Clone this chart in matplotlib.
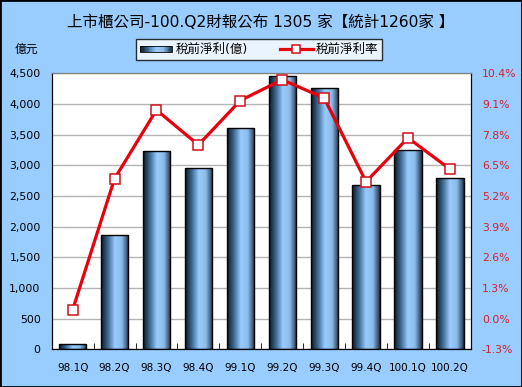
#Libraries
import numpy as np
import matplotlib
matplotlib.use('Agg')
import matplotlib.pyplot as plt
from matplotlib.colors import LinearSegmentedColormap
from matplotlib.patches import Rectangle
from matplotlib.lines import Line2D
from matplotlib.legend_handler import HandlerBase

#Fonts
plt.rcParams['font.family'] = ['DejaVu Sans', 'Noto Sans CJK TC']

#Data
quarters = ['98.1Q', '98.2Q', '98.3Q', '98.4Q', '99.1Q', '99.2Q', '99.3Q', '99.4Q', '100.1Q', '100.2Q']
profit = [91, 1859, 3228, 2951, 3603, 4456, 4255, 2674, 3249, 2788]  #稅前淨利(億)
margin = [0.38, 5.93, 8.84, 7.36, 9.24, 10.12, 9.35, 5.80, 7.66, 6.34]  #稅前淨利率 %
left_ticks = [0, 500, 1000, 1500, 2000, 2500, 3000, 3500, 4000, 4500]
right_ticks = [-1.3, 0.0, 1.3, 2.6, 3.9, 5.2, 6.5, 7.8, 9.1, 10.4]

title = '上市櫃公司-100.Q2財報公布 1305 家【統計1260家 】'
bar_label = '稅前淨利(億)'
line_label = '稅前淨利率'

#Colors
bg = '#99ccff'
red = '#e8000e'
tick_red = '#d42030'
cmap = LinearSegmentedColormap.from_list('bar', ['#0b1622', '#3e6a92', '#99ccff', '#8bbbe8', '#1c3048'], N=256)

#Figure
fig = plt.figure(figsize=(5.22, 3.87), dpi=100, facecolor=bg)
fig.patches.append(Rectangle((0, 0), 1, 1, transform=fig.transFigure, fill=False,
                             edgecolor='black', linewidth=2, zorder=10))
ax1 = fig.add_axes([0.099, 0.097, 0.803, 0.714])
ax1.set_facecolor('white')

x = np.arange(len(quarters))
bars = ax1.bar(x, profit, width=0.65, facecolor='none', edgecolor='black', linewidth=1, zorder=3)

#Gradient fill for bars
grad = np.linspace(0, 1, 256).reshape(1, -1)
for b in bars:
    x0, y0 = b.get_x(), b.get_y()
    w, h = b.get_width(), b.get_height()
    im = ax1.imshow(grad, extent=[x0, x0 + w, y0, y0 + h], aspect='auto', cmap=cmap,
                    zorder=2, interpolation='bilinear')
    im.set_clip_path(b)

ax1.set_xlim(-0.5, len(quarters) - 0.5)
ax1.set_ylim(0, 4500)
ax1.set_yticks(left_ticks)
ax1.set_yticklabels(['{:,}'.format(v) for v in left_ticks])
ax1.yaxis.grid(True, color='#b4b4b4', linewidth=1)
ax1.set_axisbelow(True)
ax1.set_xticks(x)
ax1.set_xticklabels(quarters)
ax1.set_xticks(np.arange(len(quarters) + 1) - 0.5, minor=True)
ax1.tick_params(axis='x', which='major', length=0, pad=10, labelsize=7.5)
ax1.tick_params(axis='x', which='minor', length=4, direction='in', color='black')
ax1.tick_params(axis='y', length=0, pad=8, labelsize=7.8)

#Line on right axis
ax2 = ax1.twinx()
ax2.plot(x, margin, color=red, linewidth=2.3, marker='s', markersize=6.5,
         markerfacecolor='white', markeredgecolor='#d0101a', markeredgewidth=1.1, zorder=5)
ax2.set_ylim(-1.3, 10.4)
ax2.set_yticks(right_ticks)
ax2.set_yticklabels(['{:.1f}%'.format(v) for v in right_ticks])
ax2.tick_params(axis='y', length=0, pad=8, labelsize=7.8, labelcolor=tick_red)

for a in (ax1, ax2):
    for s in ('left', 'right', 'bottom'):
        a.spines[s].set_color('black')
    a.spines['top'].set_color('#808080')

#Titles and labels
fig.text(0.5, 0.943, title, ha='center', va='center', fontsize=11.2)
fig.text(0.05, 0.871, '億元', ha='center', va='center', fontsize=8.5)

#Legend
class GradHandler(HandlerBase):
    def create_artists(self, legend, orig_handle, xdescent, ydescent, width, height, fontsize, trans):
        n = 24
        arts = []
        for i in range(n):
            r = Rectangle((-xdescent + width * i / n, -ydescent + height * 0.15), width / n + 0.2, height * 0.7,
                          facecolor=cmap(i / (n - 1)), edgecolor='none', transform=trans)
            arts.append(r)
        arts.append(Rectangle((-xdescent, -ydescent + height * 0.15), width, height * 0.7,
                              facecolor='none', edgecolor='black', linewidth=0.6, transform=trans))
        return arts

bar_handle = Rectangle((0, 0), 1, 1)
line_handle = Line2D([], [], color=red, linewidth=2.3, marker='s', markersize=5.5,
                     markerfacecolor='white', markeredgecolor='#d0101a', markeredgewidth=1.1)
leg = fig.legend([bar_handle, line_handle], [bar_label, line_label], loc='center',
                 bbox_to_anchor=(0.496, 0.872), ncol=2, frameon=True, fancybox=False,
                 edgecolor='black', fontsize=9, handlelength=2.6, columnspacing=2.6,
                 handletextpad=0.25, borderpad=0.3, borderaxespad=0,
                 handler_map={Rectangle: GradHandler()})
leg.get_frame().set_linewidth(1)

fig.savefig('out.png', dpi=100, facecolor=bg)
